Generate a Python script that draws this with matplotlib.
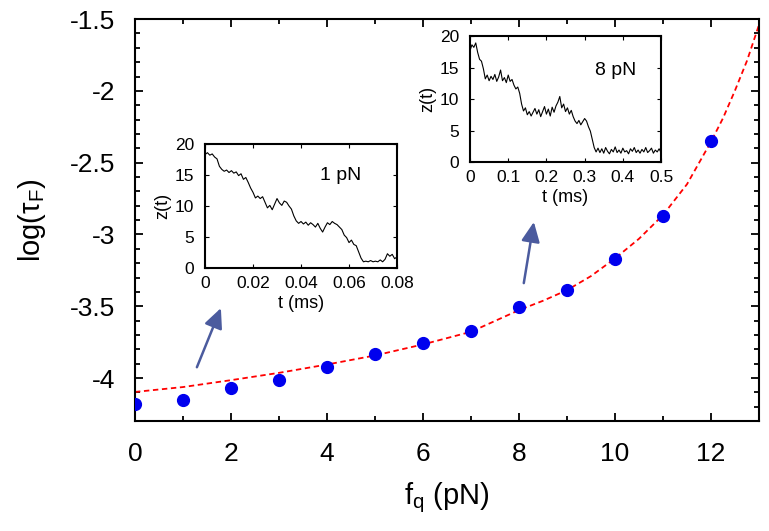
import numpy as np
import matplotlib.pyplot as plt
from matplotlib.ticker import MultipleLocator, FormatStrFormatter

plt.rcParams['font.family'] = ['Liberation Sans', 'DejaVu Sans']
plt.rcParams['axes.unicode_minus'] = False

# dados principais
forca = [0, 1, 2, 3, 4, 5, 6, 7, 8, 9, 10, 11, 12]
log_tau = [-4.178, -4.155, -4.069, -4.015, -3.923, -3.834, -3.759,
           -3.672, -3.508, -3.388, -3.172, -2.872, -2.349]

# curva de ajuste
forca_ajuste = [0, 1, 2, 3, 4, 5, 6, 7, 8, 8.5, 9, 9.5, 10, 10.5, 11,
                11.5, 12, 12.25, 12.5, 12.75, 13]
log_tau_ajuste = [-4.097, -4.063, -4.015, -3.964, -3.906, -3.843, -3.766,
                  -3.678, -3.527, -3.462, -3.388, -3.290, -3.167, -3.030,
                  -2.865, -2.650, -2.354, -2.190, -1.997, -1.790, -1.540]

# inset 1 pN
t_1pN = [0.000, 0.001, 0.002, 0.003, 0.004, 0.005, 0.006, 0.007, 0.008, 0.009,
         0.010, 0.011, 0.012, 0.013, 0.014, 0.015, 0.016, 0.017, 0.018, 0.019,
         0.020, 0.021, 0.022, 0.023, 0.024, 0.025, 0.026, 0.027, 0.028, 0.029,
         0.030, 0.031, 0.032, 0.033, 0.034, 0.035, 0.036, 0.037, 0.038, 0.039,
         0.040, 0.041, 0.042, 0.043, 0.044, 0.045, 0.046, 0.047, 0.048, 0.049,
         0.050, 0.051, 0.052, 0.053, 0.054, 0.055, 0.056, 0.057, 0.058, 0.059,
         0.060, 0.061, 0.062, 0.063, 0.064, 0.065, 0.066, 0.067, 0.068, 0.069,
         0.070, 0.071, 0.072, 0.073, 0.074, 0.075, 0.076, 0.077, 0.078, 0.079,
         0.080]
z_1pN = [18.3, 18.6, 18.2, 18.4, 17.9, 17.6, 16.4, 15.9, 15.6, 15.8,
         15.4, 15.7, 15.3, 15.5, 14.9, 15.2, 14.3, 14.6, 13.8, 12.9,
         12.2, 11.3, 11.6, 11.2, 11.5, 10.6, 9.7, 10.1, 9.4, 10.3,
         11.2, 10.5, 10.1, 10.8, 10.6, 10.0, 9.5, 8.4, 7.6, 7.2,
         7.5, 7.1, 7.4, 6.9, 7.3, 7.0, 6.6, 7.2, 6.4, 5.8,
         6.6, 7.3, 7.0, 7.5, 7.2, 7.0, 6.6, 6.2, 5.3, 4.9,
         4.1, 4.5, 3.8, 3.6, 2.6, 1.6, 1.0, 1.1, 1.0, 1.2,
         1.0, 1.1, 1.0, 1.3, 1.0, 1.4, 2.3, 1.9, 2.2, 1.5,
         1.8]

# inset 8 pN
t_8pN = [0.000, 0.005, 0.010, 0.015, 0.020, 0.025, 0.030, 0.035, 0.040, 0.045,
         0.050, 0.055, 0.060, 0.065, 0.070, 0.075, 0.080, 0.085, 0.090, 0.095,
         0.100, 0.105, 0.110, 0.115, 0.120, 0.125, 0.130, 0.135, 0.140, 0.145,
         0.150, 0.155, 0.160, 0.165, 0.170, 0.175, 0.180, 0.185, 0.190, 0.195,
         0.200, 0.205, 0.210, 0.215, 0.220, 0.225, 0.230, 0.235, 0.240, 0.245,
         0.250, 0.255, 0.260, 0.265, 0.270, 0.275, 0.280, 0.285, 0.290, 0.295,
         0.300, 0.305, 0.310, 0.315, 0.320, 0.325, 0.330, 0.335, 0.340, 0.345,
         0.350, 0.355, 0.360, 0.365, 0.370, 0.375, 0.380, 0.385, 0.390, 0.395,
         0.400, 0.405, 0.410, 0.415, 0.420, 0.425, 0.430, 0.435, 0.440, 0.445,
         0.450, 0.455, 0.460, 0.465, 0.470, 0.475, 0.480, 0.485, 0.490, 0.495,
         0.500]
z_8pN = [17.7, 18.6, 18.2, 18.9, 17.4, 16.3, 16.0, 14.8, 13.2, 13.8,
         12.9, 13.6, 13.1, 13.9, 12.8, 13.5, 14.6, 12.9, 13.4, 12.6,
         13.8, 12.8, 13.1, 12.2, 11.6, 11.9, 10.9, 9.2, 8.1, 8.6,
         7.5, 8.0, 7.3, 7.9, 8.5, 7.6, 8.3, 7.2, 8.0, 8.8,
         7.6, 8.4, 7.3, 8.7, 7.9, 8.9, 9.5, 10.4, 8.6, 9.2,
         8.0, 8.6, 7.6, 8.2, 7.2, 6.5, 6.1, 6.6, 5.9, 6.4,
         6.9, 6.5, 5.6, 4.9, 3.6, 2.3, 1.6, 2.2, 1.5, 2.1,
         1.4, 2.3, 1.7, 1.3, 2.0, 1.6, 2.4, 1.5, 1.9, 1.4,
         2.2, 1.6, 1.8, 1.3, 2.1, 1.7, 2.3, 1.5, 1.9, 1.4,
         2.0, 1.6, 2.3, 1.5, 1.8, 2.2, 1.4, 1.9, 1.6, 2.1,
         1.5]

cor_seta = '#4b5b9e'

fig = plt.figure(figsize=(7.69, 5.31), dpi=100)
ax = fig.add_axes([0.1755, 0.207, 0.8115, 0.757])

ax.plot(forca_ajuste, log_tau_ajuste, color='red', linestyle=(0, (3, 2)),
        linewidth=1.3, zorder=2)
ax.plot(forca, log_tau, 'o', color='#0000ee', markersize=8.5, zorder=3)

ax.set_xlim(0, 13)
ax.set_ylim(-4.3, -1.5)
ax.xaxis.set_major_locator(MultipleLocator(2))
ax.xaxis.set_minor_locator(MultipleLocator(1))
ax.yaxis.set_major_locator(MultipleLocator(0.5))
ax.yaxis.set_minor_locator(MultipleLocator(0.1))
ax.yaxis.set_major_formatter(FormatStrFormatter('%g'))
ax.tick_params(which='both', direction='in', top=True, right=True, width=1.3)
ax.tick_params(which='major', length=6, labelsize=19)
ax.tick_params(axis='x', which='major', pad=15)
ax.tick_params(axis='y', which='major', pad=14)
ax.tick_params(which='minor', length=3.5)
for s in ax.spines.values():
    s.set_linewidth(1.5)

ax.set_xlabel('f$_\\mathregular{q}$ (pN)', fontsize=21, va='center')
ax.xaxis.set_label_coords(0.5, -0.19)
ax.set_ylabel('log(τ$_\\mathregular{F}$)', fontsize=21, va='center')
ax.yaxis.set_label_coords(-0.165, 0.5)

# setas
estilo = '-|>,head_length=0.6,head_width=0.28'
ax.annotate('', xy=(1.79, -3.513), xytext=(1.29, -3.925),
            arrowprops=dict(arrowstyle=estilo, color=cor_seta, lw=1.8,
                            mutation_scale=20, shrinkA=0, shrinkB=0))
ax.annotate('', xy=(8.31, -2.913), xytext=(8.10, -3.339),
            arrowprops=dict(arrowstyle=estilo, color=cor_seta, lw=1.8,
                            mutation_scale=20, shrinkA=0, shrinkB=0))


def inset(pos, t, z, xmax, xpasso, rotulo, xy_rotulo):
    ins = fig.add_axes(pos)
    ins.plot(t, z, color='black', linewidth=0.8)
    ins.set_xlim(0, xmax)
    ins.set_ylim(0, 20)
    ins.xaxis.set_major_locator(MultipleLocator(xpasso))
    ins.yaxis.set_major_locator(MultipleLocator(5))
    ins.xaxis.set_major_formatter(FormatStrFormatter('%g'))
    ins.tick_params(direction='in', top=True, right=True, length=3,
                    labelsize=12.5)
    ins.tick_params(axis='x', pad=6)
    ins.tick_params(axis='y', pad=8)
    for s in ins.spines.values():
        s.set_linewidth(1.5)
    ins.set_xlabel('t (ms)', fontsize=13, labelpad=2.5)
    ins.set_ylabel('z(t)', fontsize=13, labelpad=2)
    ins.text(xy_rotulo[0], xy_rotulo[1], rotulo, fontsize=14,
             ha='center', va='center')
    return ins


inset([0.2666, 0.4953, 0.2497, 0.2335], t_1pN, z_1pN, 0.08, 0.02,
      '1 pN', (0.0563, 15.0))
inset([0.6112, 0.6949, 0.2484, 0.2373], t_8pN, z_8pN, 0.5, 0.1,
      '8 pN', (0.382, 14.6))

fig.savefig('out.png', dpi=100)
